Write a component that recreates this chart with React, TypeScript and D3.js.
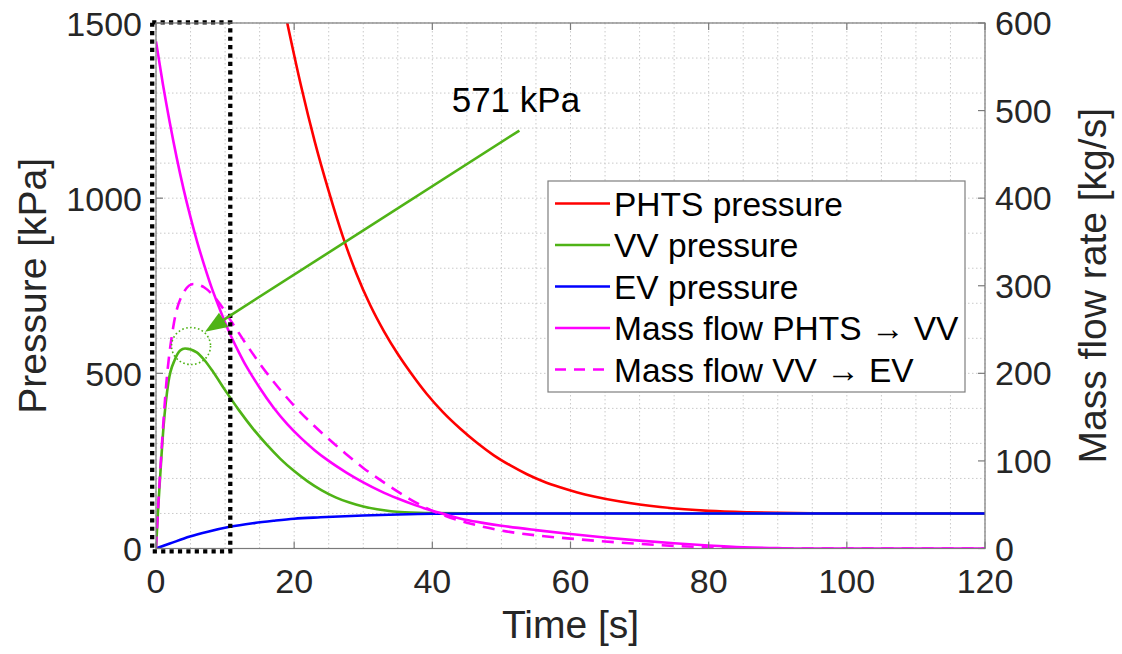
import React from "react";
import * as d3 from "d3";

// ---- Data ----
// PHTS pressure [kPa] vs time [s]
const phtsT = [15, 17, 19, 21, 23, 25, 27, 29, 31, 33, 35, 37, 39.2, 41.5, 44.1, 46.5, 48.9, 51.3, 53.7, 56, 58.6, 61, 63.4, 67.2, 70, 73, 76.5, 80, 85.6, 90, 95, 100, 120];
const phtsP = [1900, 1692, 1500, 1320, 1160, 1020, 893, 785, 695, 620, 555, 498, 441, 390, 341, 301, 266, 237, 212, 192, 174, 160, 148.5, 134, 125.6, 118.4, 112, 107.5, 103.5, 101.7, 100.5, 100.1, 100];
// VV pressure [kPa]
const vvT = [0, 0.3, 0.6, 1.1, 1.8, 2.75, 3.5, 4.2, 5.9, 7, 8.3, 10, 12, 14, 16, 18, 20, 22, 24, 26, 28, 30, 32, 34, 36, 38, 40, 45, 50, 120];
const vvP = [0, 110, 205, 350, 475, 540, 565, 571, 560, 538, 503, 452, 395, 343, 297, 256, 221, 191, 166, 146, 131, 120, 112, 106.5, 103.5, 101.8, 100.9, 100.2, 100, 100];
// EV pressure [kPa]
const evT = [0, 2, 4.9, 7.5, 10.7, 14, 17, 20, 23.8, 30, 35, 40, 50, 120];
const evP = [0, 14, 34, 48, 62, 72, 79, 85, 89, 94, 97, 99, 100, 100];
// Mass flow PHTS -> VV [kg/s]
const mf1T = [0, 1, 2, 3, 4, 5, 6, 7, 8, 9, 10, 11, 12, 13, 14, 15, 17, 19, 21, 23, 25, 27.5, 30, 32.5, 35, 37.5, 40, 42.5, 45, 47.5, 50, 55, 60, 65, 70, 75, 80, 85, 90, 93, 120];
const mf1M = [579, 530, 486, 446, 410, 378, 349, 323, 299, 278, 258, 240, 224, 209, 196, 183.5, 161, 142, 126, 112, 100, 87, 75.5, 65.5, 57, 49.5, 43, 37.5, 32.5, 29, 26, 21, 16.5, 12.5, 9, 6, 3.5, 1.5, 0.4, 0, 0];
// Mass flow VV -> EV [kg/s]
const mf2T = [0, 0.4, 0.8, 1.5, 2.5, 3.9, 5.4, 7, 8.8, 11, 13, 15.4, 18, 20, 22.5, 25, 27.5, 30, 32.5, 35, 37.5, 40, 42.5, 45, 47.5, 50, 55, 60, 65, 70, 75, 80, 84, 87, 120];
const mf2M = [0, 60, 112, 189, 253, 291, 302, 298, 284, 258, 234, 207, 181, 163, 143, 125, 108, 92, 78, 65, 53, 43, 35.5, 29.5, 24.5, 20.5, 15, 11.3, 8, 5.3, 3, 1.2, 0.2, 0, 0];

// Ticks
const xTicks = [0, 20, 40, 60, 80, 100, 120];
const yLeftTicks = [0, 500, 1000, 1500];
const yRightTicks = [0, 100, 200, 300, 400, 500, 600];

// Legend entries
const legendLabels = ["PHTS pressure", "VV pressure", "EV pressure", "Mass flow PHTS \u2192 VV", "Mass flow VV \u2192 EV"];

// Annotation (data units)
const annoText = "571 kPa";
const annoTextPos = [42.8, 1247];
const arrowFrom = [52.6, 1193];
const arrowTo = [7.1, 619];
const circleCenter = [5.07, 578];
const boxT = [-0.55, 10.75];
const boxP = [-8, 1502];

const W = 1122, H = 654;
const L = 156, R = 985, T = 23, B = 548.5;

const RED = "#ff0000", GREEN = "#4fb316", BLUE = "#0000ff", MAG = "#ff00ff";
const FONT = "'Liberation Sans', Arial, Helvetica, sans-serif";

export default function App() {
  const x = d3.scaleLinear().domain([0, 120]).range([L, R]);
  const yL = d3.scaleLinear().domain([0, 1500]).range([B, T]);
  const yR = d3.scaleLinear().domain([0, 600]).range([B, T]);

  const mk = (ts: number[], vs: number[], ys: d3.ScaleLinear<number, number>) =>
    d3.line<number>().x((_, i) => x(ts[i])).y((_, i) => ys(vs[i])).curve(d3.curveMonotoneX)(ts) || "";

  const series = [
    { d: mk(phtsT, phtsP, yL), color: RED, dash: undefined },
    { d: mk(vvT, vvP, yL), color: GREEN, dash: undefined },
    { d: mk(evT, evP, yL), color: BLUE, dash: undefined },
    { d: mk(mf1T, mf1M, yR), color: MAG, dash: undefined },
    { d: mk(mf2T, mf2M, yR), color: MAG, dash: "12 8" },
  ];

  const gridX = d3.range(0, 121, 5);
  const gridY = d3.range(0, 1501, 100);

  // arrow geometry
  const ax0 = x(arrowFrom[0]), ay0 = yL(arrowFrom[1]);
  const ax1 = x(arrowTo[0]), ay1 = yL(arrowTo[1]);
  const ang = Math.atan2(ay1 - ay0, ax1 - ax0);
  const hl = 22, hw = 8.5;
  const bx = ax1 - hl * Math.cos(ang), by = ay1 - hl * Math.sin(ang);
  const head = `M${ax1},${ay1}L${bx + hw * Math.sin(ang)},${by - hw * Math.cos(ang)}L${bx - hw * Math.sin(ang)},${by + hw * Math.cos(ang)}Z`;

  const legX = 548, legY = 181, legW = 417, legH = 211;
  const rowY = (i: number) => 203.5 + i * 41.5;

  const axisColor = "#7a7a7a";
  const tickLen = 7;

  return (
    <svg width={W} height={H} style={{ position: "absolute", left: 0, top: 0, background: "#fff" }} fontFamily={FONT}>
      <defs>
        <clipPath id="plotclip">
          <rect x={L} y={T} width={R - L} height={B - T} />
        </clipPath>
      </defs>
      <rect x={L} y={T} width={R - L} height={B - T} fill="#fff" />
      {/* grid */}
      <g stroke="#c9c9c9" strokeWidth={1} strokeDasharray="1.5 2.5">
        {gridX.map((g) => (
          <line key={"gx" + g} x1={x(g)} x2={x(g)} y1={T} y2={B} />
        ))}
        {gridY.map((g) => (
          <line key={"gy" + g} x1={L} x2={R} y1={yL(g)} y2={yL(g)} />
        ))}
      </g>
      {/* curves */}
      <g clipPath="url(#plotclip)" fill="none" strokeWidth={2.6} strokeLinejoin="round">
        {series.map((s, i) => (
          <path key={i} d={s.d} stroke={s.color} strokeDasharray={s.dash} />
        ))}
      </g>
      {/* dotted box */}
      <rect
        x={x(boxT[0])}
        y={yL(boxP[1])}
        width={x(boxT[1]) - x(boxT[0])}
        height={yL(boxP[0]) - yL(boxP[1])}
        fill="none"
        stroke="#000"
        strokeWidth={4.3}
        strokeDasharray="4.2 4.2"
      />
      {/* dotted circle */}
      <ellipse cx={x(circleCenter[0])} cy={yL(circleCenter[1])} rx={19.5} ry={18.5} fill="none" stroke={GREEN} strokeWidth={1.6} strokeDasharray="1.6 2.4" />
      {/* arrow */}
      <line x1={ax0} y1={ay0} x2={bx} y2={by} stroke={GREEN} strokeWidth={2.6} />
      <path d={head} fill={GREEN} />
      <text x={x(annoTextPos[0])} y={yL(annoTextPos[1])} fontSize={35} fill="#000">{annoText}</text>
      {/* legend */}
      <rect x={legX} y={legY} width={legW} height={legH} fill="#fff" stroke="#7f7f7f" strokeWidth={1.2} />
      {legendLabels.map((lab, i) => (
        <g key={lab}>
          <line x1={555} x2={610} y1={rowY(i)} y2={rowY(i)} stroke={series[i].color} strokeWidth={2.6} strokeDasharray={series[i].dash ? "11 8" : undefined} />
          <text x={614} y={rowY(i) + 12} fontSize={33.5} fill="#000">{lab}</text>
        </g>
      ))}
      {/* axes box */}
      <rect x={L} y={T} width={R - L} height={B - T} fill="none" stroke={axisColor} strokeWidth={1.2} />
      <g stroke={axisColor} strokeWidth={1.2}>
        {xTicks.map((t) => (
          <g key={"xt" + t}>
            <line x1={x(t)} x2={x(t)} y1={B} y2={B - tickLen} />
            <line x1={x(t)} x2={x(t)} y1={T} y2={T + tickLen} />
          </g>
        ))}
        {yLeftTicks.map((t) => (
          <line key={"yl" + t} x1={L} x2={L + tickLen} y1={yL(t)} y2={yL(t)} />
        ))}
        {yRightTicks.map((t) => (
          <line key={"yr" + t} x1={R} x2={R - tickLen} y1={yR(t)} y2={yR(t)} />
        ))}
      </g>
      {/* tick labels */}
      <g fontSize={34} fill="#262626">
        {xTicks.map((t) => (
          <text key={"xl" + t} x={x(t)} y={593} textAnchor="middle">{t}</text>
        ))}
        {yLeftTicks.map((t) => (
          <text key={"yll" + t} x={142} y={yL(t) + 12.5} textAnchor="end">{t}</text>
        ))}
        {yRightTicks.map((t) => (
          <text key={"yrl" + t} x={995} y={yR(t) + 12} textAnchor="start">{t}</text>
        ))}
      </g>
      {/* axis labels */}
      <g fontSize={39} fill="#262626">
        <text x={(L + R) / 2} y={638} textAnchor="middle">Time [s]</text>
        <text transform={`translate(46,${(T + B) / 2}) rotate(-90)`} textAnchor="middle">Pressure [kPa]</text>
        <text transform={`translate(1106,${(T + B) / 2}) rotate(-90)`} textAnchor="middle">Mass flow rate [kg/s]</text>
      </g>
    </svg>
  );
}
